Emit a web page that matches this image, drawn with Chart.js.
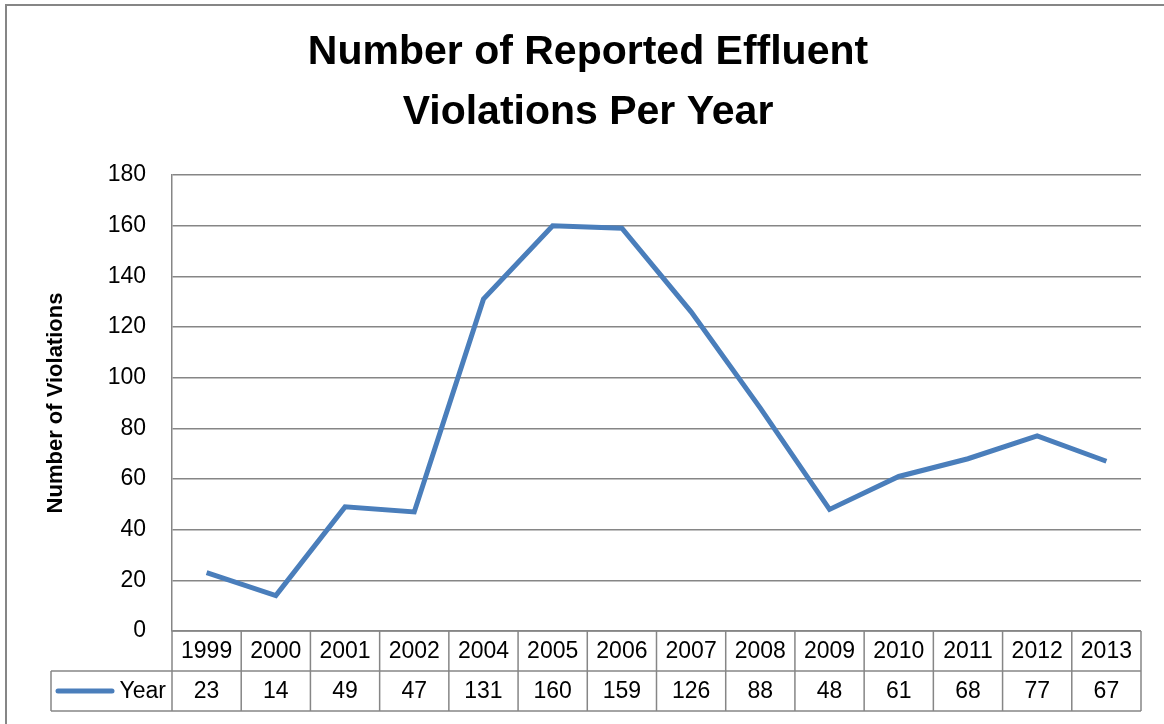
<!DOCTYPE html>
<html>
<head>
<meta charset="utf-8">
<script src="https://cdn.jsdelivr.net/npm/chart.js@4.4.0/dist/chart.umd.min.js"></script>
<style>
html,body{margin:0;padding:0;background:#fff;}
#wrap{width:1164px;height:724px;position:relative;}
</style>
</head>
<body>
<div id="wrap"><canvas id="c" width="1164" height="724"></canvas></div>
<script>
const categories = ['1999','2000','2001','2002','2004','2005','2006','2007','2008','2009','2010','2011','2012','2013'];
const violations = [23,14,49,47,131,160,159,126,88,48,61,68,77,67];
const seriesName = 'Year';
const titleLines = ['Number of Reported Effluent','Violations Per Year'];
const yAxisTitle = 'Number of Violations';

const GRID = '#868686';
const LINE = '#4A7EBB';
const FONT = '"Liberation Sans", Arial, sans-serif';

const decor = {
  id: 'decor',
  afterDraw(chart) {
    const ctx = chart.ctx;
    const ca = chart.chartArea;
    const xs = chart.scales.x;
    const n = categories.length;
    const colW = (ca.right - ca.left) / n;
    const rowH = 40;
    const top = ca.bottom, mid = ca.bottom + rowH, bot = ca.bottom + 2 * rowH;
    const legLeft = 51;
    ctx.save();
    // outer chart border
    ctx.strokeStyle = GRID;
    ctx.lineWidth = 2;
    ctx.strokeRect(6, 5, 1300, 900);
    // title
    ctx.fillStyle = '#000';
    ctx.font = 'bold 41px ' + FONT;
    ctx.textAlign = 'center';
    ctx.textBaseline = 'alphabetic';
    ctx.fillText(titleLines[0], 588, 64);
    ctx.fillText(titleLines[1], 588, 124);
    // table lines
    ctx.lineWidth = 1.5;
    ctx.strokeStyle = GRID;
    ctx.beginPath();
    ctx.moveTo(ca.left, top); ctx.lineTo(ca.right, top);
    ctx.moveTo(legLeft, mid); ctx.lineTo(ca.right, mid);
    ctx.moveTo(legLeft, bot); ctx.lineTo(ca.right, bot);
    ctx.moveTo(legLeft, mid); ctx.lineTo(legLeft, bot);
    for (let i = 0; i <= n; i++) {
      const x = ca.left + i * colW;
      ctx.moveTo(x, top); ctx.lineTo(x, bot);
    }
    ctx.stroke();
    // table text
    ctx.fillStyle = '#000';
    ctx.font = '23px ' + FONT;
    ctx.textAlign = 'center';
    ctx.textBaseline = 'middle';
    for (let i = 0; i < n; i++) {
      const cx = xs.getPixelForValue(i);
      ctx.fillText(categories[i], cx, top + rowH / 2 + 1);
      ctx.fillText(String(violations[i]), cx, mid + rowH / 2 + 1);
    }
    // legend key
    ctx.strokeStyle = LINE;
    ctx.lineWidth = 5;
    ctx.lineCap = 'round';
    ctx.beginPath();
    ctx.moveTo(58, mid + rowH / 2); ctx.lineTo(112, mid + rowH / 2);
    ctx.stroke();
    ctx.textAlign = 'right';
    ctx.fillText(seriesName, ca.left - 6, mid + rowH / 2 + 1);
    ctx.restore();
  }
};

new Chart(document.getElementById('c'), {
  type: 'line',
  data: {
    labels: categories,
    datasets: [{
      label: seriesName,
      data: violations,
      borderColor: LINE,
      borderWidth: 5,
      pointRadius: 0,
      tension: 0,
      fill: false
    }]
  },
  options: {
    responsive: false,
    animation: false,
    devicePixelRatio: 1,
    layout: { padding: { left: 0, top: 175, right: 23, bottom: 93 } },
    plugins: { legend: { display: false }, title: { display: false }, tooltip: { enabled: false } },
    scales: {
      x: { type: 'category', offset: true, display: false },
      y: {
        min: 0, max: 180,
        ticks: { stepSize: 20, color: '#000', font: { family: FONT, size: 23 }, padding: 26 },
        grid: { color: GRID, lineWidth: 1.5, drawTicks: false },
        border: { display: true, color: GRID, width: 1.5 },
        title: { display: true, text: yAxisTitle, color: '#000', font: { family: FONT, size: 22, weight: 'bold' }, padding: { top: 43, bottom: 0 } },
        afterFit(scale) { scale.width = 172; }
      }
    }
  },
  plugins: [decor]
});
</script>
</body>
</html>
